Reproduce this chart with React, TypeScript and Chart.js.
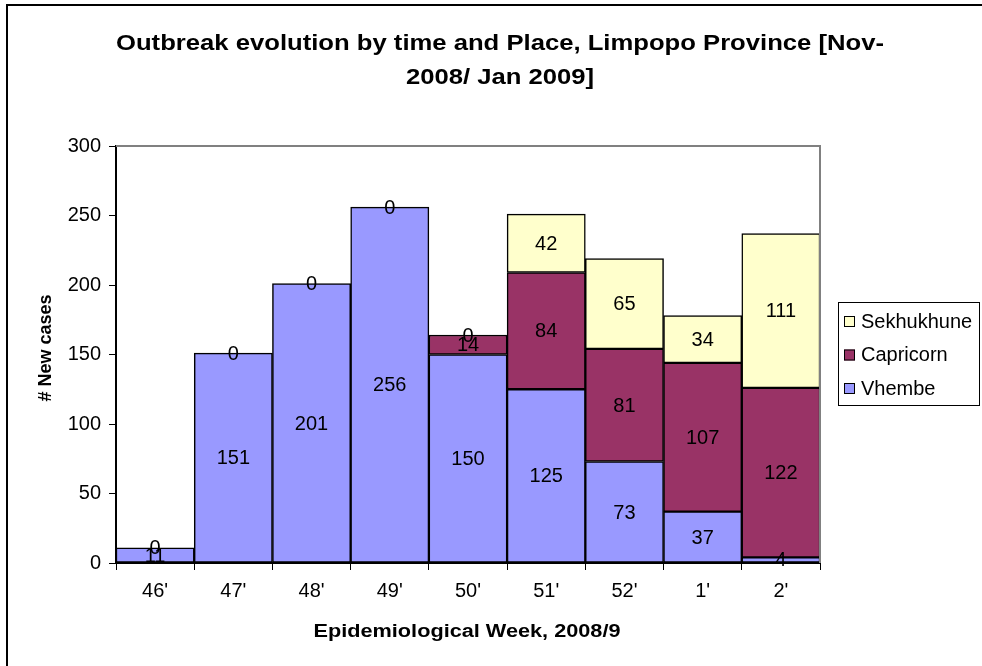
import React, { useEffect, useRef } from "react";
import { Chart, registerables } from "chart.js";

Chart.register(...registerables);

const weeks = ["46'", "47'", "48'", "49'", "50'", "51'", "52'", "1'", "2'"];
const vhembe = [11, 151, 201, 256, 150, 125, 73, 37, 4];
const capricorn = [0, 0, 0, 0, 14, 84, 81, 107, 122];
const sekhukhune: (number | null)[] = [null, null, null, null, 0, 42, 65, 34, 111];
const yTicks = [0, 50, 100, 150, 200, 250, 300];

const titleLines = ["Outbreak evolution by time and Place, Limpopo Province [Nov-", "2008/ Jan 2009]"];
const xTitle = "Epidemiological Week, 2008/9";
const yTitle = "# New cases";

const FONT = "'Liberation Sans', Arial, sans-serif";

const colors = { Vhembe: "#9999FF", Capricorn: "#993366", Sekhukhune: "#FFFFCC" };

function drawStretched(ctx: any, text: string, x: number, y: number, sx: number) {
  ctx.save();
  ctx.translate(x, y);
  ctx.scale(sx, 1);
  ctx.fillText(text, 0, 0);
  ctx.restore();
}

const decorPlugin = {
  id: "decor",
  afterDatasetsDraw(chart: any) {
    const ctx = chart.ctx;
    const area = chart.chartArea;
    ctx.save();
    ctx.strokeStyle = "#808080";
    ctx.lineWidth = 2;
    ctx.beginPath();
    ctx.moveTo(area.left, area.top);
    ctx.lineTo(area.right, area.top);
    ctx.lineTo(area.right, area.bottom);
    ctx.stroke();
    ctx.fillStyle = "#000";
    ctx.font = `20px ${FONT}`;
    ctx.textAlign = "center";
    ctx.textBaseline = "middle";
    chart.data.datasets.forEach((ds: any, di: number) => {
      const meta = chart.getDatasetMeta(di);
      meta.data.forEach((bar: any, i: number) => {
        const v = ds.data[i];
        if (v === null || v === undefined) return;
        const y = (bar.y + bar.base) / 2;
        ctx.fillText(String(v), bar.x, y + 1);
      });
    });
    ctx.restore();
  },
  afterDraw(chart: any) {
    const ctx = chart.ctx;
    ctx.save();
    ctx.strokeStyle = "#000";
    ctx.lineWidth = 2;
    ctx.beginPath();
    ctx.moveTo(7, 700);
    ctx.lineTo(7, 5);
    ctx.lineTo(1000, 5);
    ctx.stroke();
    ctx.fillStyle = "#000";
    ctx.textAlign = "center";
    ctx.textBaseline = "middle";
    ctx.font = `bold 22px ${FONT}`;
    const sx = 768 / ctx.measureText(titleLines[0]).width;
    drawStretched(ctx, titleLines[0], 500, 44, sx);
    drawStretched(ctx, titleLines[1], 500, 78, sx);
    ctx.font = `bold 18px ${FONT}`;
    const sx2 = 307 / ctx.measureText(xTitle).width;
    drawStretched(ctx, xTitle, 467, 632, sx2);
    ctx.save();
    ctx.translate(46, 348);
    ctx.rotate(-Math.PI / 2);
    ctx.fillText(yTitle, 0, 0);
    ctx.restore();
    ctx.lineWidth = 1;
    ctx.strokeStyle = "#000";
    ctx.strokeRect(838.5, 302.5, 141, 103);
    const items: [string, string][] = [
      ["Sekhukhune", colors.Sekhukhune],
      ["Capricorn", colors.Capricorn],
      ["Vhembe", colors.Vhembe],
    ];
    ctx.font = `20px ${FONT}`;
    ctx.textAlign = "left";
    items.forEach(([name, col], k) => {
      const cy = 321 + k * 33.5;
      ctx.fillStyle = col;
      ctx.fillRect(844, cy - 5, 11, 11);
      ctx.strokeRect(844.5, cy - 4.5, 10, 10);
      ctx.fillStyle = "#000";
      ctx.fillText(name, 861, cy + 1);
    });
    ctx.restore();
  },
};

export default function App() {
  const ref = useRef<HTMLCanvasElement>(null);
  useEffect(() => {
    const mk = (label: string, data: any[], color: string) => ({
      label,
      data,
      backgroundColor: color,
      borderColor: "#000",
      borderWidth: 1.5,
      borderSkipped: false,
      barPercentage: 1,
      categoryPercentage: 1,
    });
    const chart = new Chart(ref.current!, {
      type: "bar",
      data: {
        labels: weeks,
        datasets: [
          mk("Vhembe", vhembe, colors.Vhembe),
          mk("Capricorn", capricorn, colors.Capricorn),
          mk("Sekhukhune", sekhukhune, colors.Sekhukhune),
        ],
      },
      options: {
        animation: false,
        responsive: false,
        layout: { padding: { left: 0, top: 146, right: 162, bottom: 0 } },
        plugins: { legend: { display: false }, title: { display: false }, tooltip: { enabled: false } },
        scales: {
          x: {
            stacked: true,
            offset: true,
            grid: { offset: true, drawOnChartArea: false, tickLength: 7, color: "#000", lineWidth: 1 },
            border: { color: "#000", width: 2 },
            ticks: { font: { family: FONT, size: 20 }, color: "#000", padding: 9 },
            afterFit: (s: any) => { s.height = 103; },
          },
          y: {
            stacked: true,
            min: 0,
            max: 300,
            afterBuildTicks: (s: any) => { s.ticks = yTicks.map((v) => ({ value: v })); },
            grid: { drawOnChartArea: false, tickLength: 7, color: "#000", lineWidth: 1 },
            border: { color: "#000", width: 2 },
            ticks: { font: { family: FONT, size: 20 }, color: "#000", padding: 8 },
            afterFit: (s: any) => { s.width = 116; },
          },
        },
      },
      plugins: [decorPlugin],
    });
    return () => chart.destroy();
  }, []);
  return (
    <div style={{ position: "fixed", left: 0, top: 0, width: 982, height: 666, background: "#fff" }}>
      <canvas ref={ref} width={982} height={666} style={{ width: 982, height: 666 }} />
    </div>
  );
}
